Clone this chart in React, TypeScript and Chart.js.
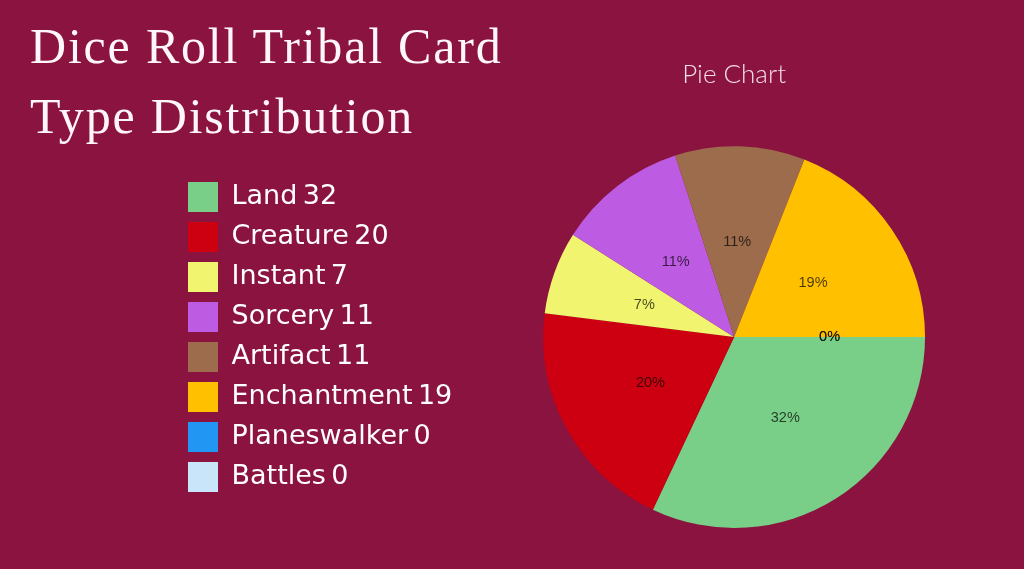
import React, { useEffect, useRef } from "react";
import { Chart, registerables } from "chart.js";

Chart.register(...registerables);

const categories = ["Land", "Creature", "Instant", "Sorcery", "Artifact", "Enchantment", "Planeswalker", "Battles"];
const counts = [32, 20, 7, 11, 11, 19, 0, 0];
const sliceColors = ["#79CF88", "#CC0011", "#F0F46E", "#BE5BE3", "#9C6C4C", "#FFC000", "#2196F3", "#C9E5FA"];
const pageTitleLines = ["Dice Roll Tribal Card", "Type Distribution"];
const chartTitle = "Pie Chart";

const BG = "#8A1340";

const percentLabels = {
  id: "percentLabels",
  afterDatasetsDraw(chart: any) {
    const ctx = chart.ctx;
    const meta = chart.getDatasetMeta(0);
    const data = chart.data.datasets[0].data as number[];
    const total = data.reduce((a, b) => a + b, 0);
    ctx.save();
    ctx.font = "14.5px 'Liberation Sans', Arial, sans-serif";
    ctx.fillStyle = "rgba(0,0,0,0.7)";
    ctx.textAlign = "center";
    ctx.textBaseline = "middle";
    meta.data.forEach((arc: any, i: number) => {
      const p = arc.tooltipPosition();
      const pct = Math.round((data[i] / total) * 100);
      ctx.fillText(pct + "%", p.x, p.y);
    });
    ctx.restore();
  },
};

export default function App() {
  const ref = useRef<HTMLCanvasElement | null>(null);
  useEffect(() => {
    if (!ref.current) return;
    const chart = new Chart(ref.current, {
      type: "pie",
      data: {
        labels: categories.map((c, i) => c + "\u2009" + counts[i]),
        datasets: [
          {
            data: counts,
            backgroundColor: sliceColors,
            borderWidth: 0,
          },
        ],
      },
      options: {
        animation: false,
        responsive: false,
        rotation: 90,
        layout: { padding: { left: 178, right: 18, top: 0, bottom: 41 } },
        plugins: {
          tooltip: { enabled: false },
          title: {
            display: true,
            text: chartTitle,
            fullSize: false,
            color: "#F3DDE6",
            font: { family: "Lato", size: 26, weight: "300" },
            padding: { top: 59, bottom: 56 },
          },
          legend: {
            position: "left",
            fullSize: false,
            align: "center",
            labels: {
              boxWidth: 30,
              boxHeight: 30,
              padding: 10,
              color: "#FFFFFF",
              font: { family: "'DejaVu Sans'", size: 27 },
            },
          },
        },
      },
      plugins: [percentLabels],
    });
    return () => chart.destroy();
  }, []);

  return (
    <div style={{ position: "fixed", left: 0, top: 0, width: 1024, height: 569, background: BG, overflow: "hidden" }}>
      <canvas ref={ref} width={1024} height={569} style={{ position: "absolute", left: 0, top: 0, width: 1024, height: 569 }} />
      <div
        style={{
          position: "absolute",
          left: 30,
          top: 11,
          fontFamily: "'Liberation Serif', serif",
          fontSize: 50,
          letterSpacing: "1.8px",
          lineHeight: "70px",
          color: "#FFF6F9",
          whiteSpace: "nowrap",
        }}
      >
        {pageTitleLines.map((l) => (
          <div key={l}>{l}</div>
        ))}
      </div>
    </div>
  );
}
